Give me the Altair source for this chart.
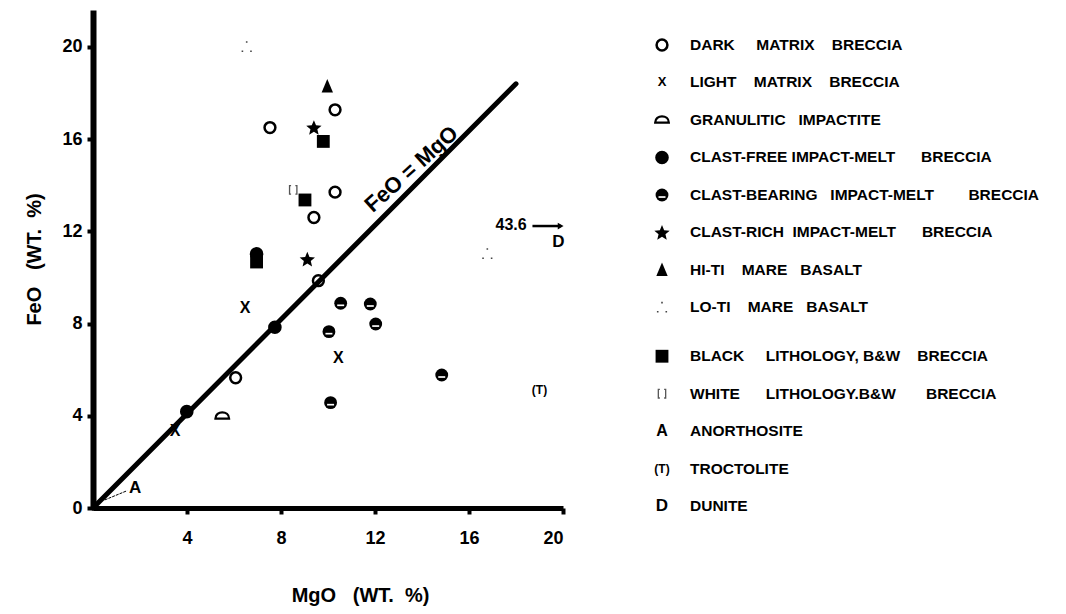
import math
import altair as alt
import pandas as pd

FONT = "Liberation Sans, Arial, Helvetica, sans-serif"
NB = "\u00a0"

# ---------------- data (MgO, FeO in wt. %) ----------------
dark_mgo = [10.3, 7.53, 10.3, 9.4, 9.59, 6.07]
dark_feo = [17.27, 16.5, 13.7, 12.6, 9.86, 5.65]
light_mgo = [6.47, 10.44, 3.49]
light_feo = [8.69, 6.49, 3.34]
gran_mgo = [5.5]
gran_feo = [3.99]
cfree_mgo = [3.99, 7.74, 6.96]
cfree_feo = [4.18, 7.84, 11.02]
cbear_mgo = [10.54, 11.8, 10.04, 12.03, 14.84, 10.11]
cbear_feo = [8.88, 8.85, 7.65, 7.98, 5.77, 4.57]
crich_mgo = [9.4, 9.12]
crich_feo = [16.5, 10.79]
hiti_mgo = [9.97]
hiti_feo = [18.28]
loti_mgo = [6.54, 16.78]
loti_feo = [20.0, 11.02]
black_mgo = [9.8, 9.02, 6.96]
black_feo = [15.9, 13.36, 10.67]
white_mgo = [8.52]
white_feo = [13.8]
anor_mgo = [1.79]
anor_feo = [0.85]
troc_mgo = [19.0]
troc_feo = [5.12]
dun_mgo = [19.8]
dun_feo = [11.55]

# FeO = MgO reference line and annotations
eq_mgo = [0.0, 18.0]
eq_feo = [0.0, 18.4]
eq_label = ["FeO = MgO"]
eq_label_mgo = [13.55]
eq_label_feo = [14.7]
anor_leader_mgo = [0.5, 1.45]
anor_leader_feo = [0.35, 0.75]
dun_value = ["43.6"]
dun_value_mgo = [17.79]
dun_value_feo = [12.28]
dun_arrow_mgo = [18.7, 19.9]
dun_arrow_feo = [12.23, 12.23]

x_ticks = [4, 8, 12, 16, 20]
y_ticks = [0, 4, 8, 12, 16, 20]

legend_groups = ["dark", "light", "gran", "cfree", "cbear", "crich", "hiti", "loti",
                 "black", "white", "anor", "troc", "dun"]
legend_labels = [
    "DARK" + NB * 5 + "MATRIX" + NB * 4 + "BRECCIA",
    "LIGHT" + NB * 4 + "MATRIX" + NB * 4 + "BRECCIA",
    "GRANULITIC" + NB * 3 + "IMPACTITE",
    "CLAST-FREE IMPACT-MELT" + NB * 6 + "BRECCIA",
    "CLAST-BEARING" + NB * 3 + "IMPACT-MELT" + NB * 8 + "BRECCIA",
    "CLAST-RICH" + NB * 2 + "IMPACT-MELT" + NB * 6 + "BRECCIA",
    "HI-TI" + NB * 4 + "MARE" + NB * 3 + "BASALT",
    "LO-TI" + NB * 4 + "MARE" + NB * 3 + "BASALT",
    "BLACK" + NB * 5 + "LITHOLOGY," + NB + "B&W" + NB * 4 + "BRECCIA",
    "WHITE" + NB * 6 + "LITHOLOGY.B&W" + NB * 7 + "BRECCIA",
    "ANORTHOSITE",
    "TROCTOLITE",
    "DUNITE",
]

# ---------------- symbol shapes ----------------
GRAN_PATH = "M -0.9 0.35 C -0.9 -0.75 0.9 -0.75 0.9 0.35 Z"
BAR_PATH = "M -0.52 0.18 L 0.52 0.18 L 0.52 0.43 L -0.52 0.43 Z"
LOTI_PATH = ("M -0.13 -0.93 L 0.13 -0.93 L 0.13 -0.67 L -0.13 -0.67 Z "
             "M -0.83 0.57 L -0.57 0.57 L -0.57 0.83 L -0.83 0.83 Z "
             "M 0.57 0.57 L 0.83 0.57 L 0.83 0.83 L 0.57 0.83 Z")
WHITE_PATH = ("M -0.35 -0.7 L -0.6 -0.7 L -0.6 0.7 L -0.35 0.7 "
              "M 0.35 -0.7 L 0.6 -0.7 L 0.6 0.7 L 0.35 0.7")
_star_pts = []
for k in range(10):
    rad = 1.0 if k % 2 == 0 else 0.45
    ang = math.radians(-90 + 36 * k)
    _star_pts.append(f"{rad * math.cos(ang):.3f} {rad * math.sin(ang) + 0.08:.3f}")
STAR_PATH = "M " + " L ".join(_star_pts) + " Z"
TRI_PATH = "M 0 -1 L 0.75 0.8 L -0.75 0.8 Z"


def marks(group, df, X, Y, legend=False):
    base = alt.Chart(df)
    enc = dict(x=X, y=Y)
    pt = dict(opacity=1, color="black")
    if group == "dark":
        return [base.mark_point(shape="circle", filled=False, size=117, strokeWidth=2.5, **pt).encode(**enc)]
    if group == "light":
        return [base.mark_text(text="X", font=FONT, fontSize=13 if legend else 16, fontWeight="bold",
                               baseline="middle", color="black").encode(**enc)]
    if group == "gran":
        return [base.mark_point(shape=GRAN_PATH, filled=False, size=230, strokeWidth=2.3, **pt).encode(**enc)]
    if group == "cfree":
        return [base.mark_point(shape="circle", filled=True, size=185, **pt).encode(**enc)]
    if group == "cbear":
        return [base.mark_point(shape="circle", filled=True, size=165, **pt).encode(**enc),
                base.mark_point(shape=BAR_PATH, filled=True, size=180, opacity=1, color="white").encode(**enc)]
    if group == "crich":
        return [base.mark_point(shape=STAR_PATH, filled=True, size=260, **pt).encode(**enc)]
    if group == "hiti":
        return [base.mark_point(shape=TRI_PATH, filled=True, size=230, **pt).encode(**enc)]
    if group == "loti":
        return [base.mark_point(shape=LOTI_PATH, filled=True, size=150, opacity=1, color="#444").encode(**enc)]
    if group == "black":
        return [base.mark_point(shape="square", filled=True, size=165, **pt).encode(**enc)]
    if group == "white":
        return [base.mark_point(shape=WHITE_PATH, filled=False, size=150, strokeWidth=1.3,
                                opacity=1, color="#555").encode(**enc)]
    if group == "anor":
        return [base.mark_text(text="A", font=FONT, fontSize=16 if legend else 17, fontWeight="bold",
                               baseline="middle", color="black").encode(**enc)]
    if group == "troc":
        return [base.mark_text(text="(T)", font=FONT, fontSize=12, fontWeight="bold",
                               baseline="middle", color="black").encode(**enc)]
    if group == "dun":
        return [base.mark_text(text="D", font=FONT, fontSize=17, fontWeight="bold",
                               baseline="middle", color="black").encode(**enc)]
    return []


series = {
    "dark": (dark_mgo, dark_feo), "light": (light_mgo, light_feo), "gran": (gran_mgo, gran_feo),
    "cfree": (cfree_mgo, cfree_feo), "cbear": (cbear_mgo, cbear_feo), "crich": (crich_mgo, crich_feo),
    "hiti": (hiti_mgo, hiti_feo), "loti": (loti_mgo, loti_feo), "black": (black_mgo, black_feo),
    "white": (white_mgo, white_feo), "anor": (anor_mgo, anor_feo), "troc": (troc_mgo, troc_feo),
    "dun": (dun_mgo, dun_feo),
}

xscale = alt.Scale(domain=[0, 20], nice=False, zero=False)
yscale = alt.Scale(domain=[0, 21.6], nice=False, zero=False)

xaxis = alt.Axis(values=x_ticks, orient="bottom", title="MgO" + NB * 3 + "(WT." + NB * 2 + "%)", grid=False,
                 labelFont=FONT, labelFontSize=18, labelFontWeight="bold", labelColor="black",
                 domainColor="black", domainWidth=5, tickColor="black", tickWidth=4, tickSize=6,
                 labelPadding=15, titleFont=FONT, titleFontSize=20, titleFontWeight="bold",
                 titleColor="black", titlePadding=38, titleX=267, titleAlign="center", format="d")
yaxis = alt.Axis(values=y_ticks, orient="left", title="FeO" + NB * 3 + "(WT." + NB * 2 + "%)", grid=False,
                 labelFont=FONT, labelFontSize=18, labelFontWeight="bold", labelColor="black",
                 domainColor="black", domainWidth=6, tickColor="black", tickWidth=4, tickSize=6,
                 labelPadding=5, titleFont=FONT, titleFontSize=20, titleFontWeight="bold",
                 titleColor="black", titlePadding=17, format="d")

X = alt.X("mgo:Q", scale=xscale, axis=xaxis)
Y_axis = alt.Y("feo:Q", scale=yscale, axis=yaxis)
Y = alt.Y("feo:Q", scale=yscale, axis=None)


def df_of(mgo, feo, **extra):
    d = pd.DataFrame({"mgo": mgo, "feo": feo})
    for k, v in extra.items():
        d[k] = v
    return d


layers = []
layers.append(alt.Chart(df_of(eq_mgo, eq_feo)).mark_line(color="black", strokeWidth=5,
                                                         strokeCap="round").encode(x=X, y=Y_axis))
layers.append(alt.Chart(df_of(anor_leader_mgo, anor_leader_feo)).mark_line(
    color="black", strokeWidth=1, strokeDash=[3, 1]).encode(x=X, y=Y))
layers.append(alt.Chart(df_of(dun_arrow_mgo, dun_arrow_feo)).mark_line(
    color="black", strokeWidth=2.5).encode(x=X, y=Y))
layers.append(alt.Chart(df_of(dun_arrow_mgo[-1:], dun_arrow_feo[-1:])).mark_point(
    shape="triangle-right", filled=True, size=45, opacity=1, color="black").encode(x=X, y=Y))
for g, (m, f) in series.items():
    layers += marks(g, df_of(m, f), X, Y)
layers.append(alt.Chart(df_of(eq_label_mgo, eq_label_feo, label=eq_label)).mark_text(
    font=FONT, fontSize=22, fontWeight="bold", angle=318, color="black", baseline="middle"
).encode(x=X, y=Y, text="label:N"))
layers.append(alt.Chart(df_of(dun_value_mgo, dun_value_feo, label=dun_value)).mark_text(
    font=FONT, fontSize=16, fontWeight="bold", color="black", baseline="middle"
).encode(x=X, y=Y, text="label:N"))

# ---------------- legend (own row scale, to the right of the plot) ----------------
legend_rows = [i + (0.3 if i >= 8 else 0) for i in range(len(legend_groups))]
legscale = alt.Scale(domain=[-0.933, 12.347], reverse=True, nice=False, zero=False)
LY = alt.Y("row:Q", scale=legscale, axis=None)
for g, r in zip(legend_groups, legend_rows):
    layers += marks(g, pd.DataFrame({"row": [r]}), alt.value(569), LY, legend=True)
leg_df = pd.DataFrame({"row": legend_rows, "label": legend_labels})
layers.append(alt.Chart(leg_df).mark_text(
    font=FONT, fontSize=15.5, fontWeight="bold", align="left", baseline="middle", color="black"
).encode(x=alt.value(597), y=LY, text="label:N"))

chart = alt.layer(*layers).resolve_scale(y="independent").properties(
    width=470, height=498,
    autosize=alt.AutoSizeParams(type="none"),
    padding={"left": 85, "top": 2, "right": 490, "bottom": 100},
    background="white",
).configure_view(stroke=None)

chart.save("out.html", embed_options={"renderer": "svg", "actions": False})
